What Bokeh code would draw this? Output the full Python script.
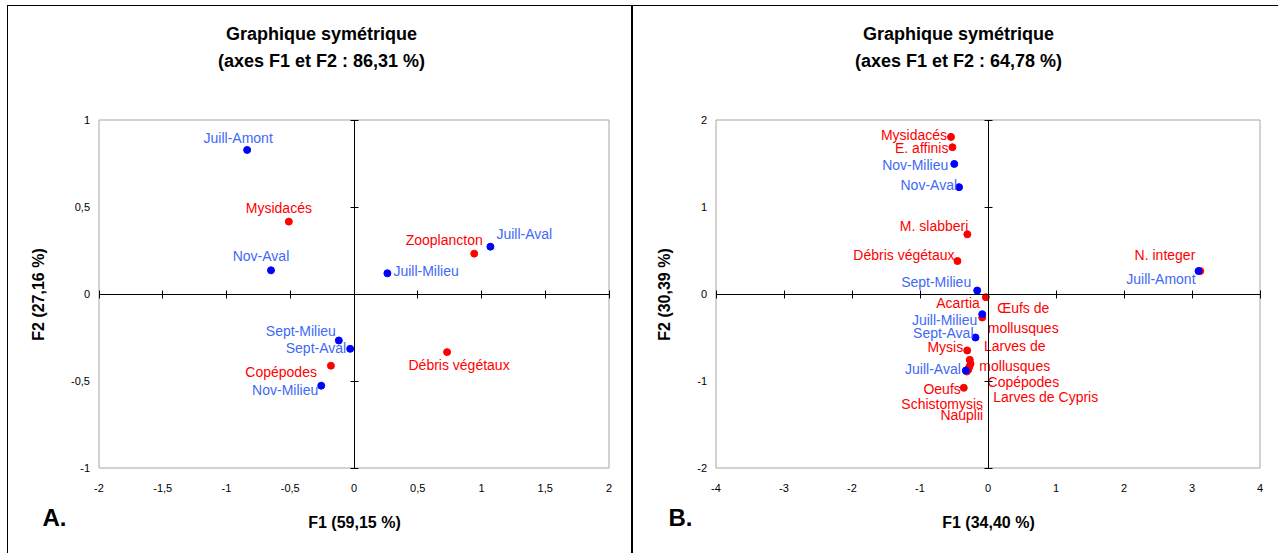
from bokeh.plotting import figure
from bokeh.models import ColumnDataSource, LinearAxis, FixedTicker, Range1d
from bokeh.layouts import row
from bokeh.embed import file_html
from bokeh.resources import INLINE
from bokeh.core.properties import value

# ---------------- Panel A data ----------------
a_title = ["Graphique symétrique", "(axes F1 et F2 : 86,31 %)"]
a_tag = "A."
a_xlabel = "F1 (59,15 %)"
a_ylabel = "F2 (27,16 %)"
a_species = ["Mysidacés", "Zooplancton", "Copépodes", "Débris végétaux"]
a_species_f1 = [-0.511, 0.943, -0.181, 0.730]
a_species_f2 = [0.416, 0.232, -0.412, -0.334]
a_sites = ["Juill-Amont", "Nov-Aval", "Juill-Aval", "Juill-Milieu",
           "Sept-Milieu", "Sept-Aval", "Nov-Milieu"]
a_sites_f1 = [-0.838, -0.651, 1.070, 0.262, -0.119, -0.030, -0.257]
a_sites_f2 = [0.828, 0.136, 0.272, 0.119, -0.267, -0.315, -0.527]
a_xticks = [-2, -1.5, -1, -0.5, 0, 0.5, 1, 1.5, 2]
a_xtick_labels = ["-2", "-1,5", "-1", "-0,5", "0", "0,5", "1", "1,5", "2"]
a_yticks = [-1, -0.5, 0, 0.5, 1]
a_ytick_labels = ["-1", "-0,5", "0", "0,5", "1"]

# ---------------- Panel B data ----------------
b_title = ["Graphique symétrique", "(axes F1 et F2 : 64,78 %)"]
b_tag = "B."
b_xlabel = "F1 (34,40 %)"
b_ylabel = "F2 (30,39 %)"
b_species = ["Mysidacés", "E. affinis", "M. slabberi", "Débris végétaux",
             "N. integer", "Acartia", "Œufs de\nmollusques", "Mysis",
             "Larves de\nmollusques", "Copépodes", "Larves de Cypris",
             "Schistomysis", "Nauplii", "Oeufs"]
b_species_f1 = [-0.544, -0.523, -0.304, -0.449, 3.122, -0.032, -0.085,
                -0.306, -0.268, -0.257, -0.277, -0.291, -0.312, -0.356]
b_species_f2 = [1.806, 1.687, 0.686, 0.379, 0.264, -0.037, -0.270,
                -0.649, -0.757, -0.803, -0.841, -0.871, -0.891, -1.078]
b_sites = ["Nov-Milieu", "Nov-Aval", "Sept-Milieu", "Juill-Amont",
           "Juill-Milieu", "Sept-Aval", "Juill-Aval"]
b_sites_f1 = [-0.496, -0.426, -0.159, 3.096, -0.085, -0.184, -0.326]
b_sites_f2 = [1.495, 1.228, 0.040, 0.264, -0.232, -0.500, -0.879]
b_xticks = [-4, -3, -2, -1, 0, 1, 2, 3, 4]
b_xtick_labels = ["-4", "-3", "-2", "-1", "0", "1", "2", "3", "4"]
b_yticks = [-2, -1, 0, 1, 2]
b_ytick_labels = ["-2", "-1", "0", "1", "2"]

# ---------------- label layout (screen px) ----------------
a_species_align = ["center", "center", "right", "center"]
a_species_dx = [-10, -30, -14, 12]
a_species_dy = [-14, -14, 6, 13]
a_sites_align = ["center", "center", "left", "left", "right", "right", "right"]
a_sites_dx = [-9, -10, 6, 6, -3, -4, -3]
a_sites_dy = [-12, -14, -13, -2, -9, -1, 4]

b_species_align = ["right", "right", "right", "right", "right", "right",
                   "center", "right", "center", "left", "left", "center",
                   "center", "right"]
b_species_dx = [-4, -4, 1, -3, -5, -6, 41, -4, 45, 17, 24, -26, -5, -3]
b_species_dy = [-2, 1, -8, -6, -16, 6, 1, -3, -4, 18, 30, 34, 43, 1]
b_sites_align = ["right"] * 7
b_sites_dx = [-6, -2, -6, -3, -5, -2, -5]
b_sites_dy = [1, -2, -9, 8, 6, -5, -1]

RED = "#ff0000"
BLUE_PT = "#0000ff"
BLUE_TXT = "#4169f5"
FONT = "Liberation Sans"
H = 553
BOX_TOP, BOX_BOTTOM = 119.5, 467.5     # plot box edges, canvas px


def panel(width, box_l, box_r, xticks, xlabs, yticks, ylabs, xlabel, ylabel,
          title, tag, title_cx, tag_x,
          sp, sp_x, sp_y, sp_al, sp_dx, sp_dy,
          st, st_x, st_y, st_al, st_dx, st_dy, css):
    x0, x1 = xticks[0], xticks[-1]
    y0, y1 = yticks[0], yticks[-1]
    kx = (box_r - box_l) / (x1 - x0)
    ky = (BOX_BOTTOM - BOX_TOP) / (y1 - y0)
    xr = Range1d(x0 - box_l / kx, x1 + (width - box_r) / kx)
    yr = Range1d(y0 - (H - BOX_BOTTOM) / ky, y1 + BOX_TOP / ky)

    def px2x(px):
        return xr.start + px / kx

    def py2y(py):
        return yr.end - py / ky

    p = figure(width=width, height=H, x_range=xr, y_range=yr,
               x_axis_type=None, y_axis_type=None,
               min_border=0, toolbar_location=None, output_backend="svg",
               background_fill_color=None, border_fill_color=None,
               outline_line_color=None, styles=css)

    # plot box
    p.quad(left=[x0], right=[x1], bottom=[y0], top=[y1], fill_color=None,
           line_color="#a6a6a6", line_width=1)

    # tick labels + axis titles on the box edges
    xa = LinearAxis(fixed_location=y0, ticker=FixedTicker(ticks=xticks),
                    bounds=(x0, x1),
                    major_label_overrides={t: l for t, l in zip(xticks, xlabs)},
                    axis_label=xlabel)
    ya = LinearAxis(fixed_location=x0, ticker=FixedTicker(ticks=yticks),
                    bounds=(y0, y1),
                    major_label_overrides={t: l for t, l in zip(yticks, ylabs)},
                    axis_label=ylabel)
    for ax in (xa, ya):
        ax.axis_line_color = None
        ax.major_tick_line_color = None
        ax.minor_tick_line_color = None
        ax.major_tick_in = 0
        ax.major_tick_out = 0
        ax.major_label_text_font = FONT
        ax.major_label_text_font_size = "11px"
        ax.major_label_text_color = "black"
        ax.axis_label_text_font = FONT
        ax.axis_label_text_font_size = "16px"
        ax.axis_label_text_font_style = "bold"
        ax.axis_label_text_color = "black"
    xa.major_label_standoff = 16
    xa.axis_label_standoff = 18
    ya.major_label_standoff = 9
    ya.axis_label_standoff = 22
    p.add_layout(xa, "below")
    p.add_layout(ya, "left")

    # axes through the origin
    for ticks, side in ((xticks, "below"), (yticks, "left")):
        ax = LinearAxis(fixed_location=0, ticker=FixedTicker(ticks=ticks),
                        bounds=(ticks[0], ticks[-1]),
                        major_label_overrides={t: "" for t in ticks},
                        major_label_text_font_size="0px",
                        major_tick_in=4, major_tick_out=4,
                        minor_tick_line_color=None,
                        axis_line_color="black", major_tick_line_color="black")
        p.add_layout(ax, side)

    src_sp = ColumnDataSource(dict(x=sp_x, y=sp_y, name=sp, al=sp_al, dx=sp_dx, dy=sp_dy))
    src_st = ColumnDataSource(dict(x=st_x, y=st_y, name=st, al=st_al, dx=st_dx, dy=st_dy))

    p.scatter("x", "y", source=src_sp, size=7, color=RED, line_color=RED)
    p.scatter("x", "y", source=src_st, size=7, color=BLUE_PT, line_color=BLUE_PT)
    p.text("x", "y", text="name", source=src_sp, x_offset="dx", y_offset="dy",
           text_align="al", text_baseline="middle", text_color=RED,
           text_font=value(FONT), text_font_size="14px", text_line_height=1.25)
    p.text("x", "y", text="name", source=src_st, x_offset="dx", y_offset="dy",
           text_align="al", text_baseline="middle", text_color=BLUE_TXT,
           text_font=value(FONT), text_font_size="14px")

    # chart title (two lines) and panel tag
    p.text(x=[px2x(title_cx)] * 2, y=[py2y(33), py2y(60)], text=title,
           text_align="center", text_baseline="middle", text_color="black",
           text_font=value(FONT), text_font_size="18px", text_font_style="bold")
    p.text(x=[px2x(tag_x)], y=[py2y(517)], text=[tag],
           text_align="left", text_baseline="middle", text_color="black",
           text_font=value(FONT), text_font_size="24px", text_font_style="bold")
    return p


css_a = {
    "background-image": "linear-gradient(#000,#000), linear-gradient(#000,#000), linear-gradient(#000,#000)",
    "background-position": "7px 5px, 7px 5px, 631px 5px",
    "background-size": "1px 100%, 100% 1px, 1px 100%",
    "background-repeat": "no-repeat",
}
css_b = {
    "background-image": "linear-gradient(#000,#000), linear-gradient(#000,#000)",
    "background-position": "0px 5px, 0px 5px",
    "background-size": "1px 100%, 100% 1px",
    "background-repeat": "no-repeat",
}

pa = panel(632, 98.5, 608.5, a_xticks, a_xtick_labels, a_yticks, a_ytick_labels,
           a_xlabel, a_ylabel, a_title, a_tag, 321, 42,
           a_species, a_species_f1, a_species_f2, a_species_align, a_species_dx, a_species_dy,
           a_sites, a_sites_f1, a_sites_f2, a_sites_align, a_sites_dx, a_sites_dy, css_a)
pb = panel(646, 83.5, 627.5, b_xticks, b_xtick_labels, b_yticks, b_ytick_labels,
           b_xlabel, b_ylabel, b_title, b_tag, 326, 36,
           b_species, b_species_f1, b_species_f2, b_species_align, b_species_dx, b_species_dy,
           b_sites, b_sites_f1, b_sites_f2, b_sites_align, b_sites_dx, b_sites_dy, css_b)

layout = row(pa, pb)
open("out.html", "w").write(file_html(layout, INLINE))
